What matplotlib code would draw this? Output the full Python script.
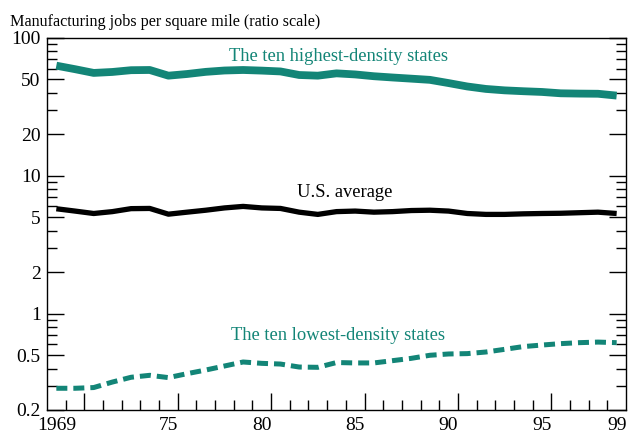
import matplotlib
matplotlib.use("Agg")
import matplotlib.pyplot as plt
from matplotlib.ticker import FixedLocator, NullFormatter

years = list(range(1969, 2000))
highest = [63.0, 59.4, 55.8, 56.7, 58.4, 58.6, 53.3, 54.8, 56.8, 58.1, 58.6,
           58.0, 57.2, 53.9, 53.3, 55.4, 54.4, 52.8, 51.7, 50.7, 49.7, 47.1,
           44.5, 42.7, 41.7, 41.1, 40.6, 39.7, 39.5, 39.4, 38.2]
us_avg = [5.77, 5.55, 5.33, 5.50, 5.78, 5.80, 5.27, 5.45, 5.63, 5.85, 6.00,
          5.85, 5.80, 5.45, 5.25, 5.50, 5.55, 5.45, 5.50, 5.60, 5.63, 5.55,
          5.33, 5.25, 5.25, 5.30, 5.33, 5.35, 5.40, 5.45, 5.33]
lowest = [0.2875, 0.2875, 0.291, 0.319, 0.3455, 0.357, 0.3436, 0.367, 0.390,
          0.417, 0.446, 0.436, 0.431, 0.410, 0.408, 0.442, 0.439, 0.439, 0.456,
          0.474, 0.499, 0.510, 0.513, 0.527, 0.551, 0.577, 0.592, 0.606, 0.616,
          0.622, 0.616]

x_label_years = [1969, 1975, 1980, 1985, 1990, 1995, 1999]
x_tick_labels = ["1969", "75", "80", "85", "90", "95", "99"]
y_major = [0.2, 0.5, 1, 2, 5, 10, 20, 50, 100]
y_labels = ["0.2", "0.5", "1", "2", "5", "10", "20", "50", "100"]
y_minor = [0.3, 0.4, 0.6, 0.7, 0.8, 0.9, 3, 4, 6, 7, 8, 9, 30, 40, 60, 70, 80, 90]

title = "Manufacturing jobs per square mile (ratio scale)"
lbl_high = "The ten highest-density states"
lbl_us = "U.S. average"
lbl_low = "The ten lowest-density states"

TEAL = "#138577"
plt.rcParams["font.family"] = ["Liberation Serif", "DejaVu Serif"]

fig = plt.figure(figsize=(6.35, 4.34), dpi=100)
ax = fig.add_axes([47 / 635, 24 / 434, 579 / 635, 372 / 434])

ax.plot(years, highest, color=TEAL, lw=5.6, solid_capstyle="butt", solid_joinstyle="round")
ax.plot(years, us_avg, color="black", lw=3.8, solid_capstyle="butt", solid_joinstyle="round")
ax.plot(years, lowest, color=TEAL, lw=3.6, dashes=(2.2, 1.2), dash_capstyle="butt")

ax.set_yscale("log")
ax.set_ylim(0.2, 100)
ax.set_xlim(years[0] - 0.5, years[-1] + 0.5)

ax.yaxis.set_major_locator(FixedLocator(y_major))
ax.set_yticklabels(y_labels)
ax.yaxis.set_minor_locator(FixedLocator(y_minor))
ax.yaxis.set_minor_formatter(NullFormatter())
ax.tick_params(axis="y", which="both", direction="in", left=True, right=True, width=1.0, labelsize=14, pad=4.5)
ax.tick_params(axis="y", which="major", length=12)
ax.tick_params(axis="y", which="minor", length=7)

# x: labels at year centres, ticks at year boundaries
ax.xaxis.set_major_locator(FixedLocator(x_label_years))
ax.set_xticklabels(x_tick_labels)
big = [y + 0.5 for y in years[:-1] if (y + 1) % 5 == 1]
small = [y + 0.5 for y in years[:-1] if (y + 0.5) not in big]
ax.xaxis.set_minor_locator(FixedLocator(small))
ax.tick_params(axis="x", which="major", length=0, labelsize=14, pad=5)
ax.tick_params(axis="x", which="minor", direction="in", length=7, width=1.0)
sec = ax.secondary_xaxis("bottom")
sec.set_xticks(big)
sec.tick_params(direction="in", length=12, width=1.0, labelbottom=False)
sec.spines["bottom"].set_visible(False)

for s in ax.spines.values():
    s.set_linewidth(1.0)

ax.text(1984.1, 74.0, lbl_high, color=TEAL, fontsize=13.3, ha="center", va="center")
ax.text(1984.45, 7.6, lbl_us, color="black", fontsize=13.3, ha="center", va="center")
ax.text(1984.1, 0.70, lbl_low, color=TEAL, fontsize=13.3, ha="center", va="center")

fig.text(10 / 635, 1 - 26 / 434, title, fontsize=11.6, ha="left", va="baseline")

fig.savefig("out.png", dpi=100)
